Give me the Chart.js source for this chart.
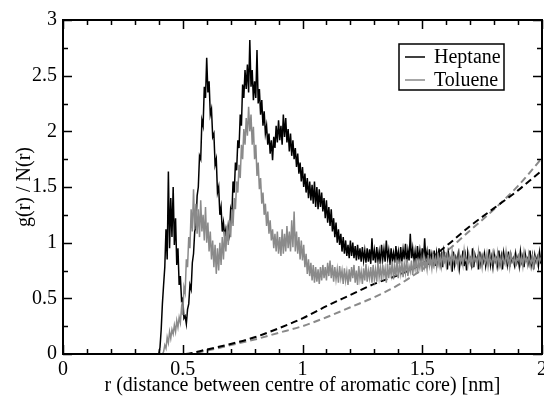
<!DOCTYPE HTML>
<html lang="en">
<head>
    <meta charset="UTF-8">
    <title>g(r) / N(r)</title>
    <style>
        body { margin: 0; padding: 0; background: #fff; }
        #chart { display: block; }
    </style>
</head>
<body>
    <canvas id="chart" width="544" height="398"></canvas>

    <script src="https://cdn.jsdelivr.net/npm/chart.js"></script>
    <script>
        // r grid of the solid curves: starts at 0.4 nm, one value every 0.005 nm
        const R_START = 0.4;
        const R_STEP = 0.005;

        // Heptane g(r)/N(r), one row per 0.1 nm
        const heptane = [
            0.00,0.06,0.22,0.45,0.62,0.78,1.12,0.85,1.64,0.95,1.40,1.05,1.50,0.98,1.22,0.80,0.95,0.62,0.70,0.48,
            0.50,0.32,0.34,0.27,0.40,0.45,0.62,0.58,0.82,0.90,1.10,1.15,1.42,1.50,1.78,1.75,2.10,2.05,2.40,2.30,
            2.66,2.35,2.45,2.15,2.20,1.95,1.98,1.70,1.75,1.45,1.50,1.25,1.32,1.10,1.18,1.05,1.12,1.02,1.15,1.08,
            1.30,1.25,1.55,1.45,1.72,1.65,1.92,1.85,2.15,2.05,2.42,2.30,2.55,2.38,2.60,2.35,2.82,2.40,2.55,2.28,
            2.45,2.30,2.73,2.25,2.38,2.15,2.28,2.05,2.18,1.98,2.05,1.88,1.98,1.80,1.92,1.74,1.95,1.85,2.05,1.90,
            2.10,1.92,2.05,1.88,2.15,1.95,2.12,1.90,2.02,1.82,1.98,1.78,1.92,1.75,1.85,1.68,1.80,1.62,1.72,1.55,
            1.68,1.50,1.62,1.45,1.58,1.40,1.55,1.38,1.52,1.35,1.55,1.32,1.50,1.30,1.48,1.32,1.45,1.28,1.40,1.22,
            1.38,1.18,1.32,1.15,1.30,1.10,1.22,1.05,1.18,1.00,1.12,0.98,1.08,0.92,1.05,0.90,1.02,0.88,0.98,0.86,
            1.02,0.88,1.00,0.86,0.97,0.84,0.98,0.85,0.95,0.83,0.96,0.84,0.93,0.82,0.95,0.83,0.94,0.81,1.04,0.84,
            0.93,0.82,0.96,0.84,0.92,0.81,0.98,0.85,0.94,0.83,1.02,0.86,0.93,0.80,0.95,0.84,0.91,0.82,0.97,0.85,
            0.92,0.81,0.96,0.83,0.94,0.85,0.99,0.82,0.93,0.84,1.08,0.86,0.95,0.83,0.92,0.80,0.97,0.84,0.93,0.82,
            0.95,0.83,1.04,0.85,0.92,0.80,0.94,0.84,0.90,0.82,0.93,0.79,0.91,0.83,0.95,0.81,0.89,0.78,0.92,0.84,
            0.88,0.76,0.90,0.82,0.86,0.74,0.92,0.80,0.87,0.83,0.90,0.77,0.86,0.82,0.93,0.79,0.88,0.75,0.91,0.83,
            0.86,0.80,0.95,0.78,0.89,0.84,0.87,0.76,0.92,0.81,0.88,0.83,0.90,0.79,0.86,0.82,0.94,0.80,0.87,0.78,
            0.90,0.83,0.86,0.79,0.93,0.81,0.88,0.76,0.91,0.84,0.87,0.80,0.92,0.78,0.89,0.83,0.86,0.80,0.90,0.82,
            0.87,0.79,0.92,0.83,0.88,0.78,0.90,0.84,0.86,0.81,0.93,0.80,0.88,0.76,0.89,0.83,0.87,0.79,0.91,0.82,
            0.80
        ];

        // Toluene g(r)/N(r), same grid
        const toluene = [
            0.00,0.00,0.00,0.00,0.02,0.08,0.05,0.15,0.10,0.20,0.14,0.22,0.18,0.26,0.20,0.30,0.24,0.33,0.28,0.42,
            0.35,0.60,0.55,0.85,0.78,1.05,0.95,1.30,1.10,1.48,1.12,1.35,1.08,1.30,1.05,1.38,1.10,1.25,1.02,1.32,
            1.00,1.18,0.92,1.10,0.85,1.02,0.78,0.98,0.72,0.95,0.75,1.00,0.80,1.05,0.85,1.10,0.92,1.15,0.98,1.20,
            1.05,1.30,1.15,1.40,1.30,1.55,1.45,1.70,1.58,1.88,1.75,2.02,1.88,2.12,1.96,2.22,2.00,2.15,1.88,2.04,
            1.75,1.88,1.60,1.72,1.48,1.58,1.35,1.45,1.25,1.35,1.15,1.28,1.08,1.20,1.02,1.12,0.95,1.08,0.92,1.10,
            0.90,1.05,0.88,1.12,0.90,1.08,0.92,1.15,0.95,1.10,0.92,1.20,0.96,1.28,0.92,1.10,0.90,1.05,0.85,1.02,
            0.84,0.98,0.78,0.90,0.72,0.85,0.70,0.82,0.66,0.80,0.64,0.78,0.65,0.76,0.63,0.78,0.66,0.80,0.68,0.78,
            0.66,0.82,0.70,0.84,0.68,0.80,0.65,0.78,0.67,0.76,0.64,0.79,0.68,0.75,0.63,0.77,0.66,0.74,0.62,0.76,
            0.65,0.78,0.68,0.80,0.64,0.75,0.62,0.79,0.67,0.74,0.63,0.77,0.66,0.81,0.65,0.75,0.68,0.78,0.64,0.80,
            0.67,0.76,0.65,0.82,0.69,0.78,0.66,0.80,0.70,0.77,0.64,0.81,0.68,0.78,0.71,0.83,0.67,0.79,0.70,0.84,
            0.68,0.80,0.72,0.83,0.69,0.81,0.73,0.85,0.70,0.79,0.74,0.84,0.71,0.82,0.76,0.86,0.72,0.83,0.77,0.85,
            0.74,0.87,0.78,0.84,0.76,0.89,0.79,0.85,0.77,0.90,0.80,0.86,0.78,0.91,0.81,0.87,0.79,0.92,0.82,0.88,
            0.80,0.91,0.83,0.87,0.79,0.92,0.84,0.88,0.81,0.86,0.78,0.90,0.83,0.87,0.80,0.93,0.84,0.85,0.79,0.89,
            0.82,0.88,0.77,0.91,0.84,0.86,0.80,0.92,0.83,0.87,0.78,0.89,0.85,0.82,0.90,0.79,0.88,0.84,0.81,0.90,
            0.83,0.87,0.80,0.91,0.82,0.86,0.79,0.89,0.84,0.81,0.92,0.83,0.87,0.78,0.90,0.85,0.82,0.88,0.80,0.86,
            0.84,0.89,0.81,0.87,0.79,0.91,0.83,0.86,0.80,0.90,0.84,0.82,0.88,0.79,0.87,0.85,0.81,0.89,0.83,0.86,
            0.84
        ];

        // N(r) dashed curves
        const dashR = [0.42, 0.5, 0.6, 0.7, 0.8, 0.9, 1.0, 1.1, 1.2, 1.3, 1.4, 1.5, 1.6, 1.7, 1.8, 1.9, 2.0];
        const heptaneN = [0, 0.0, 0.04, 0.09, 0.15, 0.23, 0.32, 0.43, 0.53, 0.63, 0.71, 0.81, 0.97, 1.15, 1.31, 1.47, 1.65];
        const tolueneN = [0, 0.0, 0.03, 0.08, 0.13, 0.19, 0.25, 0.33, 0.42, 0.51, 0.62, 0.76, 0.92, 1.11, 1.30, 1.51, 1.76];

        // axis ticks
        const xMajor = [0, 0.5, 1, 1.5, 2];
        const yMajor = [0, 0.5, 1, 1.5, 2, 2.5, 3];
        const xMinorStep = 0.1;
        const yMinorStep = 0.25;

        const GRAY = '#8a8a8a';
        const FONT = 'Liberation Serif';

        const r = heptane.map((_, i) => +(R_START + i * R_STEP).toFixed(3));
        const pts = (xs, ys) => xs.map((v, i) => ({ x: v, y: ys[i] }));
        const plain = v => String(+v.toFixed(2));   // 1 instead of 1.0

        // frame and inward ticks on all four sides
        const frameTicks = {
            id: 'frameTicks',
            afterDatasetsDraw(chart) {
                const { ctx, chartArea: a, scales: { x, y } } = chart;
                ctx.save();
                ctx.strokeStyle = '#000';
                ctx.lineWidth = 1.5;
                ctx.beginPath();
                for (let v = x.min; v <= x.max + 1e-9; v += xMinorStep) {
                    const px = Math.round(x.getPixelForValue(v)) + 0.5;
                    const len = xMajor.some(m => Math.abs(m - v) < 1e-6) ? 9 : 5;
                    ctx.moveTo(px, a.bottom); ctx.lineTo(px, a.bottom - len);
                    ctx.moveTo(px, a.top); ctx.lineTo(px, a.top + len);
                }
                for (let v = y.min; v <= y.max + 1e-9; v += yMinorStep) {
                    const py = Math.round(y.getPixelForValue(v)) + 0.5;
                    const len = yMajor.some(m => Math.abs(m - v) < 1e-6) ? 9 : 5;
                    ctx.moveTo(a.left, py); ctx.lineTo(a.left + len, py);
                    ctx.moveTo(a.right, py); ctx.lineTo(a.right - len, py);
                }
                ctx.stroke();
                ctx.lineWidth = 2;
                ctx.strokeRect(a.left, a.top, a.right - a.left, a.bottom - a.top);
                ctx.restore();
            }
        };

        // boxed legend inside the plot, top right
        const legendBox = {
            id: 'legendBox',
            afterDraw(chart) {
                const { ctx, chartArea: a } = chart;
                const items = chart.data.datasets.filter(d => d.label);
                const bx = a.right - 143, by = a.top + 24, bw = 105, bh = 46;
                ctx.save();
                ctx.fillStyle = '#fff';
                ctx.fillRect(bx, by, bw, bh);
                ctx.strokeStyle = '#000';
                ctx.lineWidth = 1.5;
                ctx.strokeRect(bx, by, bw, bh);
                ctx.font = '20px "' + FONT + '"';
                ctx.textBaseline = 'middle';
                ctx.fillStyle = '#000';
                items.forEach((d, i) => {
                    const yy = by + 13 + i * 23;
                    ctx.strokeStyle = d.borderColor;
                    ctx.beginPath();
                    ctx.moveTo(bx + 6, yy); ctx.lineTo(bx + 26, yy);
                    ctx.stroke();
                    ctx.fillText(d.label, bx + 35, yy + 1);
                });
                ctx.restore();
            }
        };

        Chart.defaults.font.family = '"' + FONT + '"';
        Chart.defaults.font.size = 20;
        Chart.defaults.color = '#000';

        new Chart(document.getElementById('chart').getContext('2d'), {
            type: 'line',
            data: {
                datasets: [
                    { label: 'Heptane', data: pts(r, heptane), borderColor: '#000', borderWidth: 1.5, order: 2 },
                    { label: 'Toluene', data: pts(r, toluene), borderColor: GRAY, borderWidth: 1.5, order: 1 },
                    { label: '', data: pts(dashR, heptaneN), borderColor: '#000', borderWidth: 2,
                      borderDash: [7, 4], cubicInterpolationMode: 'monotone', order: 3 },
                    { label: '', data: pts(dashR, tolueneN), borderColor: GRAY, borderWidth: 2,
                      borderDash: [7, 4], cubicInterpolationMode: 'monotone', order: 4 }
                ]
            },
            options: {
                responsive: false,
                animation: false,
                parsing: false,
                normalized: true,
                elements: { point: { radius: 0 }, line: { tension: 0, borderJoinStyle: 'miter' } },
                layout: { padding: { top: 20, right: 2, left: 0, bottom: 0 } },
                plugins: { legend: { display: false }, tooltip: { enabled: false } },
                scales: {
                    x: {
                        type: 'linear', min: 0, max: 2,
                        grid: { display: false, drawTicks: false },
                        border: { display: false },
                        ticks: { stepSize: 0.5, autoSkip: false, maxRotation: 0, padding: 4, callback: plain },
                        title: { display: true, text: 'r (distance between centre of aromatic core) [nm]',
                                 padding: { top: 0, bottom: 0 } },
                        afterFit(s) { s.height = 44; s.paddingLeft = 0; s.paddingRight = 0; }
                    },
                    y: {
                        type: 'linear', min: 0, max: 3,
                        grid: { display: false, drawTicks: false },
                        border: { display: false },
                        ticks: { stepSize: 0.5, autoSkip: false, padding: 6, callback: plain },
                        title: { display: true, text: 'g(r) / N(r)', padding: { top: 13, bottom: 0 } },
                        afterFit(s) { s.width = 63; s.paddingTop = 0; s.paddingBottom = 0; }
                    }
                }
            },
            plugins: [frameTicks, legendBox]
        });
    </script>
</body>
</html>
